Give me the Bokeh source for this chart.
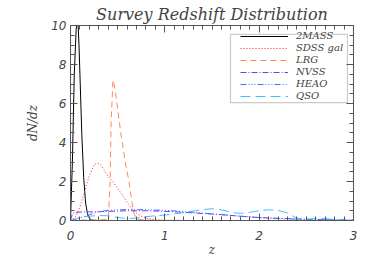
from bokeh.plotting import figure
from bokeh.models import Legend, LegendItem, LinearAxis, FixedTicker, BoxAnnotation, Range1d
from bokeh.embed import file_html
from bokeh.resources import INLINE

# ---- data ----
z_2mass = [0, 0.02, 0.04, 0.06, 0.07, 0.08, 0.09, 0.10, 0.12, 0.14, 0.16, 0.18, 0.20, 0.22, 0.25, 0.3, 3.0]
n_2mass = [0, 3.0, 7.5, 9.8, 10.2, 10.1, 9.0, 7.5, 4.4, 2.2, 0.9, 0.35, 0.12, 0.04, 0.0, 0.0, 0.0]

z_sdss = [0, 0.05, 0.1, 0.15, 0.2, 0.25, 0.28, 0.32, 0.36, 0.4, 0.45, 0.5, 0.55, 0.6, 0.65, 0.7, 0.75, 0.8, 0.9, 1.0, 1.3]
n_sdss = [0, 0.15, 0.7, 1.5, 2.3, 2.85, 2.95, 2.85, 2.55, 2.25, 2.0, 1.65, 1.3, 0.95, 0.6, 0.38, 0.22, 0.12, 0.04, 0.015, 0.0]

z_lrg = [0, 0.4, 0.42, 0.43, 0.45, 0.47, 0.49, 0.53, 0.55, 0.58, 0.62, 0.65, 0.67, 0.7, 1.0]
n_lrg = [0, 0.05, 2.0, 5.0, 7.2, 6.8, 6.1, 4.6, 4.0, 3.0, 2.0, 1.0, 0.4, 0.05, 0.0]

z_nvss = [0, 0.02, 0.05, 0.1, 0.2, 0.3, 0.4, 0.5, 0.6, 0.8, 1.0, 1.2, 1.4, 1.6, 1.8, 2.0, 2.2, 2.4, 2.6, 2.8, 3.0]
n_nvss = [0, 0.35, 0.42, 0.43, 0.44, 0.45, 0.47, 0.48, 0.5, 0.5, 0.47, 0.42, 0.36, 0.3, 0.22, 0.15, 0.11, 0.08, 0.05, 0.03, 0.02]

z_heao = [0, 0.1, 0.2, 0.3, 0.4, 0.6, 0.8, 1.0, 1.2, 1.4, 1.6, 1.8, 2.0, 2.2, 2.4, 2.6, 2.8, 3.0]
n_heao = [0, 0.12, 0.3, 0.45, 0.52, 0.56, 0.55, 0.52, 0.46, 0.38, 0.3, 0.22, 0.15, 0.1, 0.07, 0.04, 0.03, 0.02]

z_qso = [0, 0.1, 0.2, 0.3, 0.4, 0.5, 0.6, 0.7, 0.8, 0.9, 1.0, 1.1, 1.2, 1.3, 1.4, 1.5, 1.6, 1.7, 1.8, 1.9,
         2.0, 2.1, 2.2, 2.3, 2.4, 2.5, 2.6, 2.7, 2.8, 2.9, 3.0]
n_qso = [0, 0.15, 0.22, 0.26, 0.24, 0.15, 0.1, 0.12, 0.2, 0.24, 0.28, 0.34, 0.4, 0.48, 0.56, 0.6, 0.55, 0.42, 0.36, 0.42,
         0.5, 0.55, 0.52, 0.38, 0.12, 0.06, 0.1, 0.1, 0.05, 0.02, 0.0]

names = ["2MASS", "SDSS gal", "LRG", "NVSS", "HEAO", "QSO"]
x_ticks = [0, 1, 2, 3]
y_ticks = [0, 2, 4, 6, 8, 10]

series = [
    (z_2mass, n_2mass, "#000000", "solid"),
    (z_sdss, n_sdss, "#ff2020", "1 2"),
    (z_lrg, n_lrg, "#ff8a50", "6 4"),
    (z_nvss, n_nvss, "#7a3ae8", "6 2 1 2"),
    (z_heao, n_heao, "#4070ff", "6 2 1 2 1 2 1 2"),
    (z_qso, n_qso, "#40c0ff", "10 5"),
]

AX = "#555555"
TXT = "#444444"

p = figure(width=366, height=260, output_backend="svg", toolbar_location=None,
           x_range=Range1d(0, 3), y_range=Range1d(0, 10),
           min_border_left=70, min_border_right=13, min_border_top=23, min_border_bottom=40,
           x_axis_label="z", y_axis_label="dN/dz")
p.title.text = "Survey Redshift Distribution"
p.title.align = "center"
p.title.text_font = "DejaVu Serif"
p.title.text_font_style = "italic"
p.title.text_font_size = "16px"
p.title.text_color = TXT
p.title.standoff = 4
p.grid.visible = False
p.outline_line_color = AX
p.background_fill_color = "white"

xt = FixedTicker(ticks=x_ticks, minor_ticks=[i / 10 for i in range(31)])
yt = FixedTicker(ticks=y_ticks, minor_ticks=[i / 2 for i in range(21)])

def style(ax, labels=True):
    ax.axis_line_color = AX
    ax.major_tick_line_color = AX
    ax.minor_tick_line_color = AX
    ax.major_tick_in = 7
    ax.major_tick_out = 0
    ax.minor_tick_in = 4
    ax.minor_tick_out = 0
    ax.major_label_text_font = "DejaVu Sans"
    ax.major_label_text_font_style = "italic"
    if labels:
        ax.major_label_text_font_size = "12px"
        ax.major_label_text_color = TXT
    else:
        ax.major_label_text_font_size = "0px"
        ax.major_label_text_color = None
        ax.major_label_standoff = 0
    ax.axis_label_text_font = "DejaVu Serif"
    ax.axis_label_text_font_style = "italic"
    ax.axis_label_text_font_size = "12px"
    ax.axis_label_text_color = TXT

p.xaxis.ticker = xt
p.yaxis.ticker = yt
for a in p.xaxis:
    style(a)
    a.major_label_standoff = 10
    a.axis_label_standoff = 0
for a in p.yaxis:
    style(a)
    a.major_label_standoff = 4
    a.axis_label_standoff = 8

top = LinearAxis(ticker=xt)
style(top, labels=False)
right = LinearAxis(ticker=yt)
style(right, labels=False)
p.add_layout(top, "above")
p.add_layout(right, "right")

items = []
for name, (zs, ns, col, dash) in zip(names, series):
    r = p.line(zs, ns, line_color=col, line_width=1, line_dash=dash)
    items.append(LegendItem(label=name, renderers=[r]))

p.add_layout(BoxAnnotation(left=1.696, right=2.936, bottom=6.04, top=9.54,
                           fill_alpha=0, line_color=AX, line_width=1.2))

leg = Legend(items=items, location=(170, 119), padding=0, spacing=1,
             glyph_width=48, glyph_height=10, label_height=10, label_standoff=8,
             label_text_font="DejaVu Serif", label_text_font_style="italic",
             label_text_font_size="10px", label_text_color=TXT,
             border_line_color=None, background_fill_alpha=0, margin=0)
p.add_layout(leg, "center")

open("out.html", "w").write(file_html(p, INLINE))
